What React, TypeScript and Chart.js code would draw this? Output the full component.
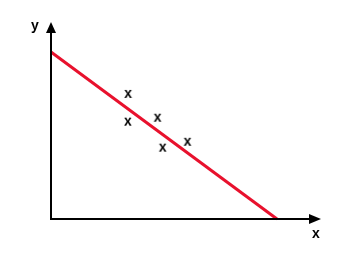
import React, { useEffect, useRef } from "react";
import { Chart, registerables } from "chart.js";

Chart.register(...registerables);

// Fitted line endpoints (data units)
const lineX = [0, 8.37];
const lineY = [8.48, 0];

// Observed sample points (data units)
const pointX = [2.86, 2.85, 3.95, 4.14, 5.06];
const pointY = [6.35, 4.94, 5.14, 3.62, 3.92];

const axisLabels = { x: "x", y: "y" };

const FONT = "bold 14px 'Liberation Sans', Arial, sans-serif";

function makeMarker(): HTMLCanvasElement {
  const c = document.createElement("canvas");
  c.width = 16;
  c.height = 16;
  const ctx = c.getContext("2d")!;
  ctx.fillStyle = "#000";
  ctx.font = FONT;
  ctx.textAlign = "center";
  ctx.textBaseline = "alphabetic";
  ctx.fillText("x", 8, 12);
  return c;
}

const axesPlugin = {
  id: "arrowAxes",
  afterDatasetsDraw(chart: any) {
    const { ctx, chartArea, scales } = chart;
    const x0 = scales.x.getPixelForValue(0);
    const y0 = scales.y.getPixelForValue(0);
    const right = chartArea.right;
    const top = chartArea.top;
    ctx.save();
    ctx.strokeStyle = "#000";
    ctx.fillStyle = "#000";
    ctx.lineWidth = 2;
    ctx.beginPath();
    ctx.moveTo(x0, top + 8);
    ctx.lineTo(x0, y0);
    ctx.lineTo(right - 8, y0);
    ctx.stroke();
    // y arrow
    ctx.beginPath();
    ctx.moveTo(x0, top);
    ctx.lineTo(x0 - 5, top + 11);
    ctx.lineTo(x0 + 5, top + 11);
    ctx.closePath();
    ctx.fill();
    // x arrow
    ctx.beginPath();
    ctx.moveTo(right, y0);
    ctx.lineTo(right - 12, y0 - 5);
    ctx.lineTo(right - 12, y0 + 5);
    ctx.closePath();
    ctx.fill();
    // labels
    ctx.font = FONT;
    ctx.textAlign = "center";
    ctx.textBaseline = "alphabetic";
    ctx.fillText(axisLabels.y, x0 - 16, top + 8);
    ctx.fillText(axisLabels.x, right - 5, y0 + 19);
    ctx.restore();
  },
};

export default function App() {
  const ref = useRef<HTMLCanvasElement>(null);
  useEffect(() => {
    const marker = makeMarker();
    const chart = new Chart(ref.current!, {
      type: "scatter",
      data: {
        datasets: [
          {
            data: lineX.map((x, i) => ({ x, y: lineY[i] })),
            showLine: true,
            borderColor: "#e8112d",
            borderWidth: 3,
            pointRadius: 0,
            clip: false as any,
          },
          {
            data: pointX.map((x, i) => ({ x, y: pointY[i] })),
            pointStyle: marker as any,
            pointRadius: 8,
            clip: false as any,
          },
        ],
      },
      options: {
        animation: false,
        responsive: false,
        maintainAspectRatio: false,
        layout: { padding: { left: 51, right: 29, top: 22, bottom: 34 } },
        plugins: { legend: { display: false }, tooltip: { enabled: false } },
        scales: {
          x: { type: "linear", min: 0, max: 10, display: false },
          y: { type: "linear", min: 0, max: 10, display: false },
        },
      },
      plugins: [axesPlugin],
    });
    return () => chart.destroy();
  }, []);
  return (
    <div style={{ position: "fixed", left: 0, top: 0, width: 350, height: 253, background: "#fff" }}>
      <canvas ref={ref} width={350} height={253} style={{ width: 350, height: 253 }} />
    </div>
  );
}
